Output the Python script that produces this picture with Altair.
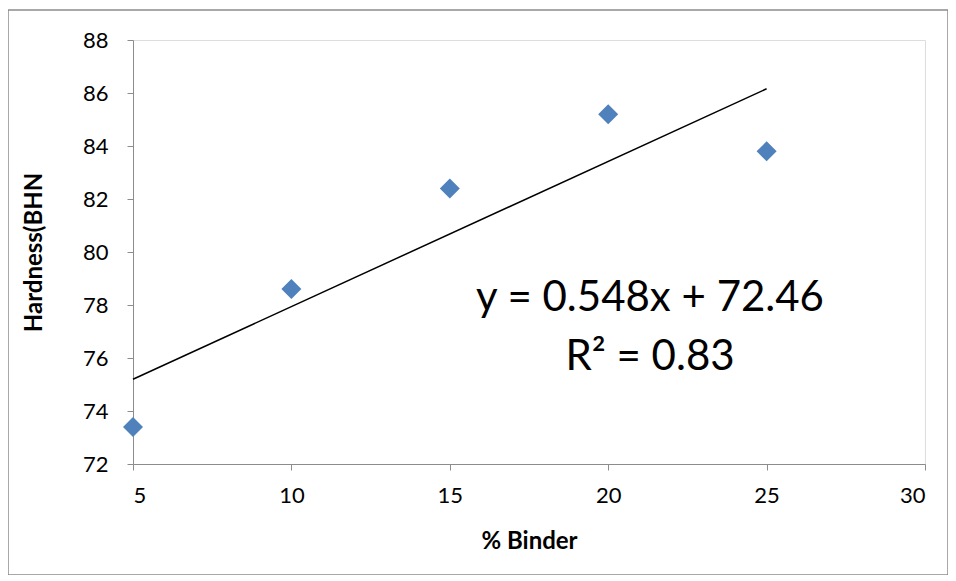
import altair as alt
import pandas as pd

binder = [5, 10, 15, 20, 25]
hardness = [73.4, 78.6, 82.4, 85.2, 83.8]
x_ticks = [5, 10, 15, 20, 25, 30]
y_ticks = [72, 74, 76, 78, 80, 82, 84, 86, 88]
equation_lines = ["y = 0.548x + 72.46", "R² = 0.83"]

df = pd.DataFrame({"binder": binder, "hardness": hardness})

FONT = "Lato"
W, H = 792, 424
AX = "#8c8c8c"

x_enc = alt.X("binder:Q", scale=alt.Scale(domain=[5, 30], nice=False, zero=False),
              axis=alt.Axis(values=x_ticks, title="% Binder", grid=False,
                            labelFontSize=22, titleFontSize=24, titleFontWeight="bold",
                            labelPadding=15, titlePadding=23, tickSize=6,
                            domainColor=AX, tickColor=AX,
                            labelColor="#000000", titleColor="#000000",
                            labelFont=FONT, titleFont=FONT))
y_enc = alt.Y("hardness:Q", scale=alt.Scale(domain=[72, 88], nice=False, zero=False),
              axis=alt.Axis(values=y_ticks, title="Hardness(BHN", grid=False,
                            labelFontSize=22, titleFontSize=24, titleFontWeight="bold",
                            labelPadding=19, titlePadding=36, tickSize=6,
                            domainColor=AX, tickColor=AX,
                            labelColor="#000000", titleColor="#000000",
                            labelFont=FONT, titleFont=FONT))

base = alt.Chart(df)

points = base.mark_point(shape="diamond", filled=True, size=400, color="#4F81BD", opacity=1).encode(
    x=x_enc, y=y_enc)

trend = base.transform_regression("binder", "hardness", extent=[5, 25]).mark_line(
    color="#000000", strokeWidth=1.5).encode(x="binder:Q", y="hardness:Q")

eq1 = alt.Chart(pd.DataFrame({"t": [equation_lines[0]]})).mark_text(
    fontSize=42, font=FONT, color="#000000", align="center", baseline="middle").encode(
    x=alt.value(517), y=alt.value(258), text="t:N")
eq2 = alt.Chart(pd.DataFrame({"t": [equation_lines[1]]})).mark_text(
    fontSize=42, font=FONT, color="#000000", align="center", baseline="middle").encode(
    x=alt.value(517), y=alt.value(317), text="t:N")

border = alt.Chart(pd.DataFrame({"a": [0]})).mark_rect(
    filled=False, stroke=AX, strokeWidth=1.5, clip=False).encode(
    x=alt.value(-125), x2=alt.value(815), y=alt.value(-30), y2=alt.value(535))

chart = alt.layer(border, trend, points, eq1, eq2).properties(
    width=W, height=H,
    autosize=alt.AutoSizeParams(type="none"),
    padding={"left": 125, "top": 32, "right": 23, "bottom": 111},
).configure_view(strokeWidth=0, stroke="transparent").configure(background="white")

chart.save("out.html", embed_options={"renderer": "svg", "actions": False})
